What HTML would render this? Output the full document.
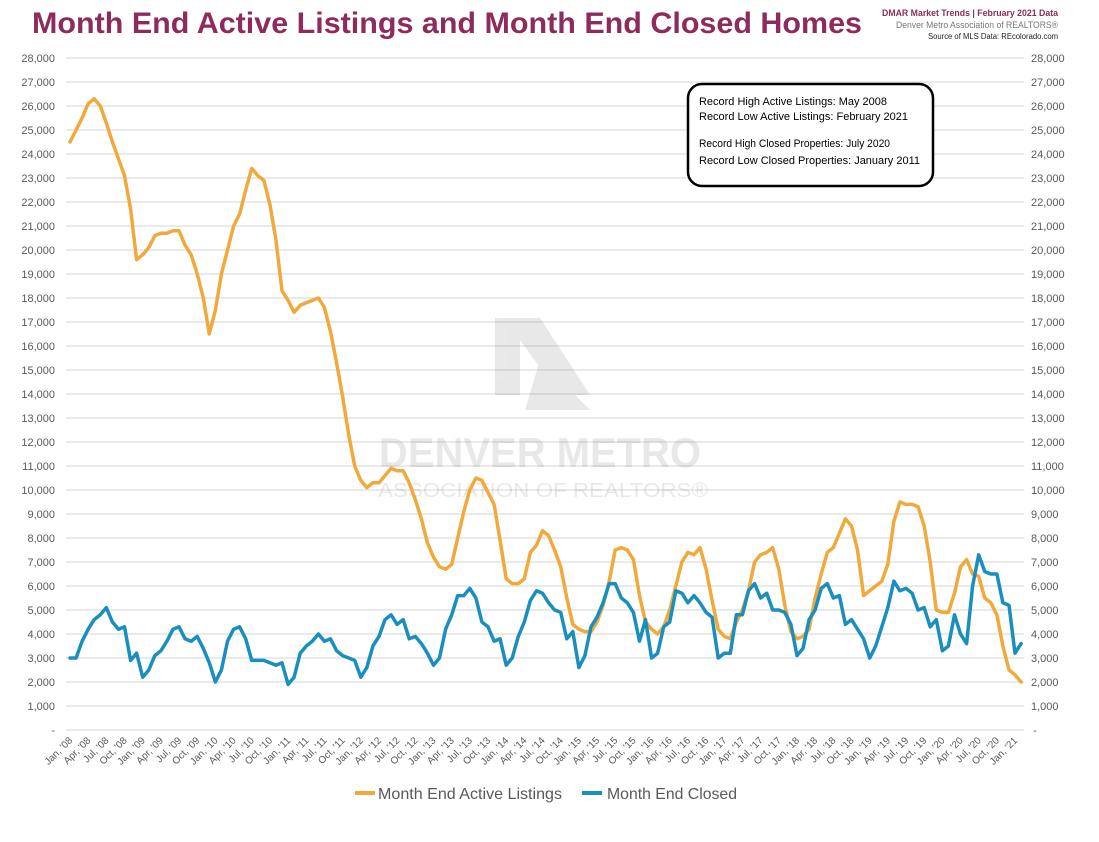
<!DOCTYPE html>
<html><head><meta charset="utf-8"><style>
html,body{margin:0;padding:0;background:#fff;}
svg{display:block;font-family:"Liberation Sans",sans-serif;}
</style></head><body>
<svg id="c" width="1099" height="842" viewBox="0 0 1099 842" xmlns="http://www.w3.org/2000/svg">
<rect width="1099" height="842" fill="#fff"/>
<text x="32" y="33" font-size="30" font-weight="bold" fill="#8c2b5c" textLength="830" lengthAdjust="spacingAndGlyphs">Month End Active Listings and Month End Closed Homes</text>
<text x="1058" y="16" font-size="9" font-weight="bold" fill="#8c2b5c" text-anchor="end" textLength="176" lengthAdjust="spacingAndGlyphs">DMAR Market Trends | February 2021 Data</text>
<text x="1058" y="28" font-size="9" fill="#777" text-anchor="end" textLength="162" lengthAdjust="spacingAndGlyphs">Denver Metro Association of REALTORS®</text>
<text x="1058" y="39" font-size="8" fill="#222" text-anchor="end" textLength="130" lengthAdjust="spacingAndGlyphs">Source of MLS Data: REcolorado.com</text>
<g id="grid"></g>
<g opacity="0.13" fill="#555">
<polygon points="495,318 540,318 590,395 560,395 520,340 520,395 495,395"/>
<polygon points="540,360 590,410 525,410"/>
<text x="540" y="467" font-size="42" font-weight="bold" text-anchor="middle" textLength="322" lengthAdjust="spacingAndGlyphs">DENVER METRO</text>
<text x="543" y="497" font-size="20" text-anchor="middle" textLength="330" lengthAdjust="spacingAndGlyphs">ASSOCIATION OF REALTORS®</text>
</g>
<g id="series"></g>
<rect x="688" y="84" width="245" height="102" rx="14" ry="14" fill="#fff" stroke="#000" stroke-width="2.5"/>
<g font-size="11" fill="#000">
<text x="699" y="105" textLength="188" lengthAdjust="spacingAndGlyphs">Record High Active Listings: May 2008</text>
<text x="699" y="120" textLength="209" lengthAdjust="spacingAndGlyphs">Record Low Active Listings: February 2021</text>
<text x="699" y="147" textLength="191" lengthAdjust="spacingAndGlyphs">Record High Closed Properties: July 2020</text>
<text x="699" y="164" textLength="221" lengthAdjust="spacingAndGlyphs">Record Low Closed Properties: January 2011</text>
</g>
<line x1="355" y1="793" x2="375" y2="793" stroke="#f0aa3c" stroke-width="4"/>
<text x="378" y="799" font-size="16" fill="#595959" textLength="184" lengthAdjust="spacingAndGlyphs">Month End Active Listings</text>
<line x1="582" y1="793" x2="602" y2="793" stroke="#1a8fbd" stroke-width="4"/>
<text x="607" y="799" font-size="16" fill="#595959" textLength="130" lengthAdjust="spacingAndGlyphs">Month End Closed</text>
</svg>
<script>
var A=[24500,25000,25500,26100,26300,26000,25300,24500,23800,23100,21700,19600,
19800,20100,20600,20700,20700,20800,20800,20200,19800,19000,18000,16500,
17500,19000,20000,21000,21500,22500,23400,23100,22900,21900,20400,18300,
17900,17400,17700,17800,17900,18000,17600,16600,15300,13900,12300,11000,
10400,10100,10300,10300,10600,10900,10800,10800,10300,9600,8800,7800,
7200,6800,6700,6900,8000,9100,10000,10500,10400,9900,9400,7900,
6300,6100,6100,6300,7400,7700,8300,8100,7500,6800,5500,4400,
4200,4100,4100,4500,5200,6200,7500,7600,7500,7100,5600,4500,
4200,4000,4300,5000,6000,7000,7400,7300,7600,6700,5400,4200,
3900,3800,4500,5000,5800,7000,7300,7400,7600,6700,5200,4100,
3800,3900,4200,5500,6500,7400,7600,8200,8800,8500,7500,5600,
5800,6000,6200,6900,8700,9500,9400,9400,9300,8500,7000,5000,
4900,4900,5700,6800,7100,6500,6400,5500,5300,4800,3500,2500,2300,2000];
var B=[3000,3000,3700,4200,4600,4800,5100,4500,4200,4300,2900,3200,
2200,2500,3100,3300,3700,4200,4300,3800,3700,3900,3400,2800,
2000,2500,3700,4200,4300,3800,2900,2900,2900,2800,2700,2800,
1900,2200,3200,3500,3700,4000,3700,3800,3300,3100,3000,2900,
2200,2600,3500,3900,4600,4800,4400,4600,3800,3900,3600,3200,
2700,3000,4200,4800,5600,5600,5900,5500,4500,4300,3700,3800,
2700,3000,3900,4500,5400,5800,5700,5300,5000,4900,3800,4100,
2600,3100,4300,4700,5300,6100,6100,5500,5300,4900,3700,4600,
3000,3200,4300,4500,5800,5700,5300,5600,5300,4900,4700,3000,
3200,3200,4800,4800,5800,6100,5500,5700,5000,5000,4900,4400,
3100,3400,4600,5000,5900,6100,5500,5600,4400,4600,4200,3800,
3000,3500,4300,5100,6200,5800,5900,5700,5000,5100,4300,4600,
3300,3500,4800,4000,3600,6000,7300,6600,6500,6500,5300,5200,3200,3600];
var NS="http://www.w3.org/2000/svg";
function el(t,a,p,txt){var e=document.createElementNS(NS,t);for(var k in a)e.setAttribute(k,a[k]);if(txt)e.textContent=txt;p.appendChild(e);return e;}
function X(i){return 70+i*6.058;}function Y(v){return 730-v*0.024;}
var g=document.getElementById('grid');
for(var v=0;v<=28000;v+=1000){var y=Y(v);
el('line',{x1:66,x2:1024,y1:y,y2:y,stroke:'#e3e3e3','stroke-width':1.5},g);
var s=v==0?'-':v.toLocaleString('en-US');
el('text',{x:55,y:y+4,'font-size':11,fill:'#595959','text-anchor':'end'},g,s);
el('text',{x:v==0?1033:1031,y:y+4,'font-size':11,fill:'#595959'},g,s);}
var mn=['Jan','Apr','Jul','Oct'];
for(var i=0;i<=156;i+=3){var yr=8+Math.floor(i/12);var lab=mn[(i%12)/3]+", '"+(yr<10?'0'+yr:yr);
var x=X(i)+3,y=741;el('text',{x:x,y:y,'font-size':10,fill:'#595959','text-anchor':'end',transform:'rotate(-45 '+x+' '+y+')'},g,lab);}
var sg=document.getElementById('series');
function pl(d,c){var p=d.map(function(v,i){return X(i).toFixed(1)+','+Y(v).toFixed(1)}).join(' ');
el('polyline',{points:p,fill:'none',stroke:c,'stroke-width':3.5,'stroke-linejoin':'round','stroke-linecap':'round'},sg);}
pl(A,'#f0aa3c');pl(B,'#1a8fbd');
</script>
</body></html>
